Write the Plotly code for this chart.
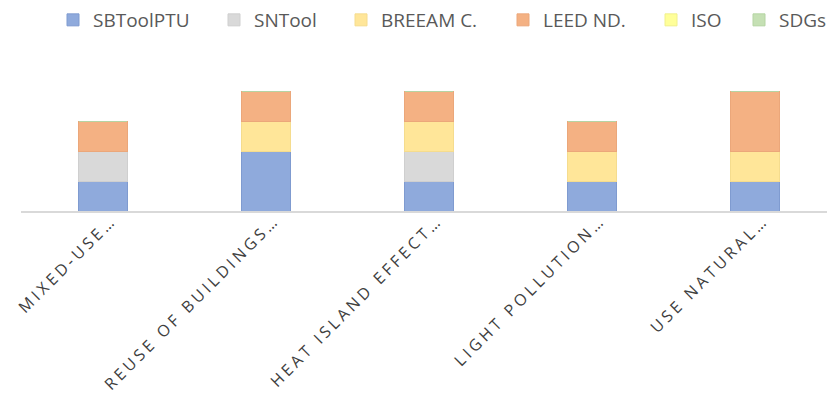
import plotly.graph_objects as go

categories = ["MIXED-USE…", "REUSE OF BUILDINGS…", "HEAT ISLAND EFFECT…", "LIGHT POLLUTION…", "USE NATURAL…"]
series_names = ["SBToolPTU", "SNTool", "BREEAM C.", "LEED ND.", "ISO", "SDGs"]
sbtool = [1, 2, 1, 1, 1]
sntool = [1, 0, 1, 0, 0]
breeam = [0, 1, 1, 1, 1]
leed = [1, 1, 1, 1, 2]
iso = [0, 0, 0, 0, 0]
sdgs = [0, 0, 0, 0, 0]
colors = ["#8FAADC", "#D9D9D9", "#FFE699", "#F4B183", "#FFFF99", "#C5E0B4"]
edge = ["#7F9BD0", "#CFCFCF", "#F5DC8E", "#EBA77A", "#F0F08C", "#B5D4A3"]
# legend text left edges (px) in the reference
legend_text_px = [92, 253, 380, 542, 690, 778]

W, H = 827, 407
ML, MT, MB = 21, 61, 196
PW = W - ML
PH = H - MT - MB

fig = go.Figure()
layout_legends = {}
for i, (name, vals, c, e) in enumerate(zip(series_names, [sbtool, sntool, breeam, leed, iso, sdgs], colors, edge)):
    lg = "legend" if i == 0 else f"legend{i+1}"
    fig.add_trace(go.Bar(name=name, x=list(range(len(categories))), y=vals, legend=lg,
                         marker=dict(color=c, line=dict(color=e, width=1))))
    layout_legends[lg] = dict(
        orientation="h", x=(legend_text_px[i] - 39 - ML) / PW, xanchor="left",
        y=1 + (MT - 20) / PH, yanchor="middle",
        font=dict(size=19, color="#595959", family="Open Sans"),
        itemwidth=30, bgcolor="rgba(0,0,0,0)")

fig.update_layout(
    barmode="stack",
    bargap=0.705,
    width=W, height=H,
    margin=dict(l=ML, r=0, t=MT, b=MB, autoexpand=False),
    plot_bgcolor="white", paper_bgcolor="white",
    font=dict(family="Open Sans", color="#595959"),
    showlegend=True,
    xaxis=dict(range=[-0.503, 4.442], tickmode="array", tickvals=list(range(len(categories))),
               ticktext=categories, tickangle=-45, showline=True, linecolor="#D9D9D9",
               linewidth=1.5, ticks="", showgrid=False, zeroline=False, automargin=False,
               ticklabelshift=9, ticklabelstandoff=-8,
               tickfont=dict(size=16, color="#404040")),
    yaxis=dict(range=[0, 5], visible=False, showgrid=False, zeroline=False, automargin=False),
    **layout_legends,
)

post = """
document.body.style.margin='0';
document.querySelectorAll('.xtick text').forEach(function(t){t.style.letterSpacing='3.5px';});
"""
fig.write_html("out.html", post_script=post, config={"displayModeBar": False})
